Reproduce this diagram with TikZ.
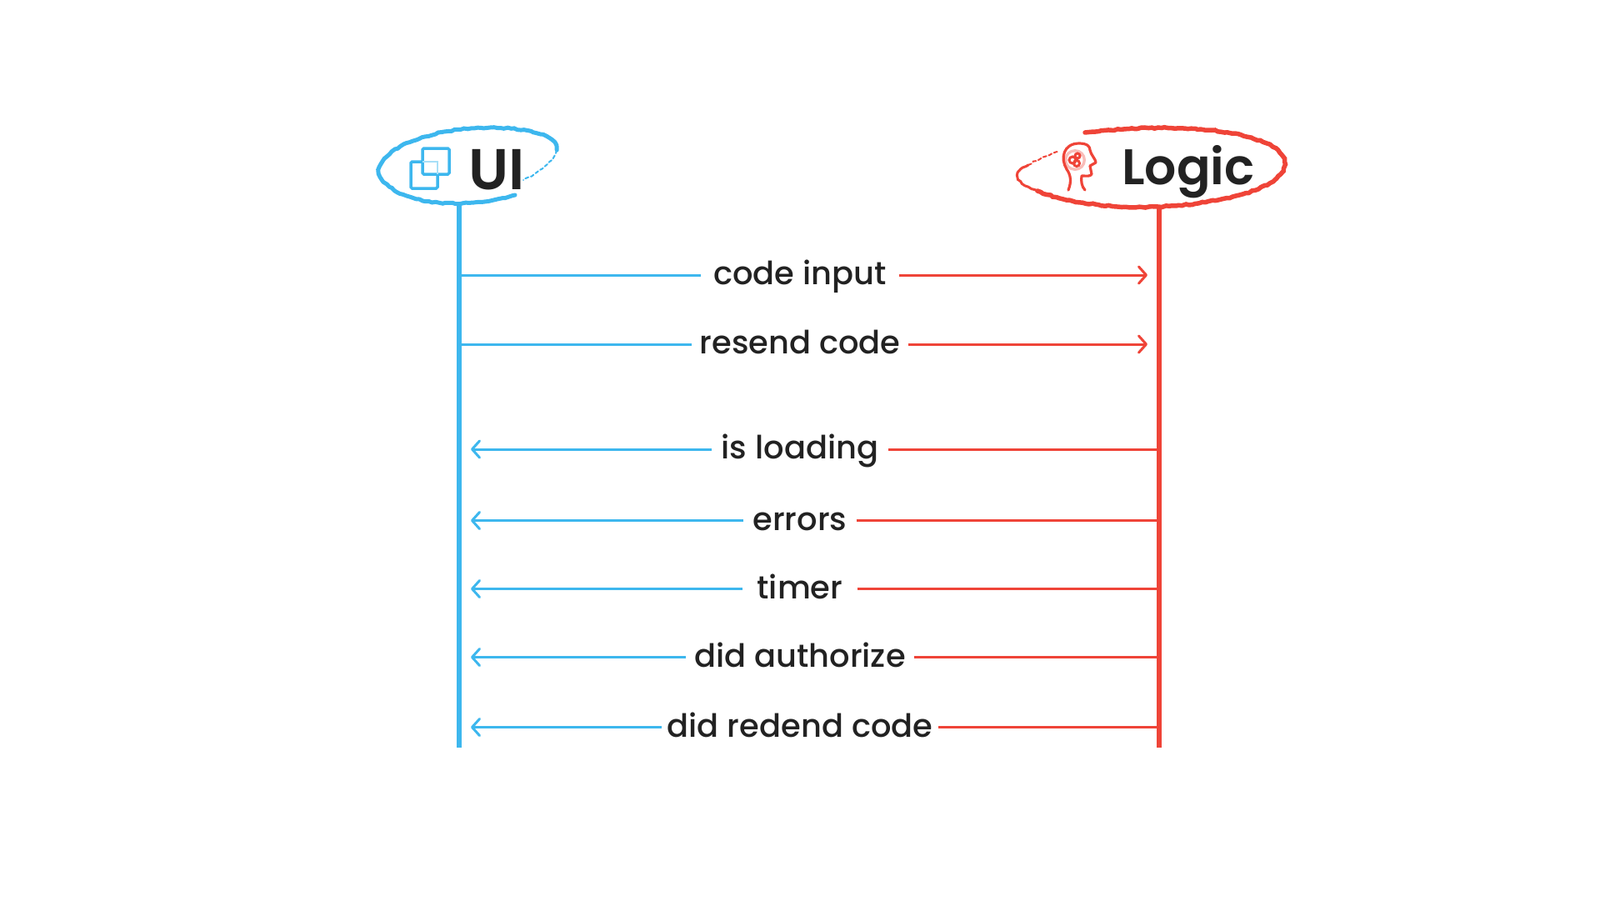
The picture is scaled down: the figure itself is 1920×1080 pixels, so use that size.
\documentclass[tikz,border=0pt]{standalone}
\usepackage{fontspec}
\setmainfont{Poppins Medium}
\newfontfamily\titlefont{Poppins SemiBold}
\usetikzlibrary{arrows.meta, positioning, decorations.pathmorphing}
\definecolor{uiBlue}{HTML}{3DB7EE}
\definecolor{logicRed}{HTML}{EF4438}
\definecolor{inkBlack}{HTML}{222222}

\begin{document}
\begin{tikzpicture}[
    x=1pt, y=-1pt,
    % Lane Titles
    title/.style={
        text=inkBlack,
        inner sep=0pt,
        anchor=base west
    },
    % Message Labels
    message/.style={
        text=inkBlack,
        font=\fontsize{38.4}{38.4}\selectfont,
        text height=26.4pt,
        text depth=2.6pt,
        inner ysep=0pt,
        inner xsep=#1
    },
    message/.default=10pt,
    % Vertical Lines
    lane/.style={line width=6pt},
    % Arrow Parts
    wire/.style={line width=3pt},
    tip/.style={-{Straight Barb[length=9pt, width=20pt, line width=3pt, round]}},
    % Hand Drawn Rings
    crayon/.style={
        line width=#1,
        line cap=round,
        decorate,
        decoration={random steps, segment length=4pt, amplitude=0.8pt}
    },
    % Faded End Of A Ring
    faded/.style={
        crayon=#1,
        dash pattern=on 4pt off 3pt
    }
]

\path[use as bounding box] (0,0) rectangle (1920,1080);

% --- LANE HEADS ---
\node[title, font=\fontsize{69}{69}\titlefont] (UiTitle) at (562,227) {UI};
\node[title, font=\fontsize{60}{60}\titlefont] (LogicTitle) at (1346,221) {Logic};

\coordinate (UiTop) at (551,244);
\coordinate (UiEnd) at (551,897);
\coordinate (LogicTop) at (1391,248);
\coordinate (LogicEnd) at (1391,897);

\draw[lane, uiBlue] (UiTop) -- (UiEnd);
\draw[lane, logicRed] (LogicTop) -- (LogicEnd);

% --- RINGS ---
\draw[crayon=5pt, uiBlue] (618,234) .. controls (570,250) and (480,250) .. (456,212)
    .. controls (446,190) and (490,160) .. (565,154)
    .. controls (620,150) and (672,160) .. (668,180);
\draw[faded=2pt, uiBlue] (668,180) .. controls (664,195) and (645,208) .. (628,216);
\draw[crayon=5.5pt, logicRed] (1302,159) .. controls (1380,150) and (1470,150) .. (1520,172)
    .. controls (1562,192) and (1542,224) .. (1470,238)
    .. controls (1400,254) and (1300,252) .. (1245,229);
\draw[crayon=3pt, logicRed] (1245,229) .. controls (1215,218) and (1215,205) .. (1234,198);
\draw[faded=2pt, logicRed] (1234,198) .. controls (1245,191) and (1258,186) .. (1270,182);

% --- UI ICON ---
\draw[uiBlue, line width=3.5pt, rounded corners=1.5pt] (507,178) rectangle (539,209);
\draw[uiBlue, line width=3.5pt, rounded corners=1.5pt] (507,194) -- (493,194) -- (493,226) -- (525,226) -- (525,209);
\draw[uiBlue!45, line width=2.5pt] (507,194) -- (525,194) -- (525,209);

% --- LOGIC ICON ---
\fill[logicRed!35] (1290,192) circle (13pt);
\fill[white] (1290,192) circle (9.5pt);
\draw[logicRed, line width=3.2pt, line cap=round, line join=round]
    (1282,228) .. controls (1286,218) and (1285,210) .. (1280,203)
    .. controls (1272,190) and (1276,172) .. (1295,172)
    .. controls (1305,172) and (1308,176) .. (1308,180)
    .. controls (1309,186) and (1315,191) .. (1315,195)
    -- (1308,199) -- (1310,209) .. controls (1308,212) and (1304,211) .. (1298,211)
    .. controls (1297,217) and (1298,224) .. (1302,228);
\draw[logicRed, line width=3pt] (1287,192) circle (4pt) (1293,187) circle (3pt) (1292,196) circle (3.5pt);

% --- MESSAGES ---
\node[message=15pt] (CodeInput) at (960,330) {code input};
\node[message=9pt] (ResendCode) at (960,413) {resend code};
\node[message=12pt] (IsLoading) at (960,539) {is loading};
\node[message=11pt] (Errors) at (960,624.5) {errors};
\node[message=17pt] (Timer) at (960,706.5) {timer};
\node[message=10pt] (DidAuthorize) at (960,788.5) {did authorize};
\node[message=7pt] (DidRedend) at (960,872.5) {did redend code};

% --- CONNECTIONS ---
\foreach \msg in {CodeInput, ResendCode} {
    \draw[wire, uiBlue] (UiTop |- \msg.west) -- (\msg.west);
    \draw[wire, tip, logicRed] (\msg.east) -- ([xshift=-14pt]LogicTop |- \msg.east);
}
\foreach \msg in {IsLoading, Errors, Timer, DidAuthorize, DidRedend} {
    \draw[wire, tip, uiBlue] (\msg.west) -- ([xshift=14pt]UiTop |- \msg.west);
    \draw[wire, logicRed] (\msg.east) -- (LogicTop |- \msg.east);
}

\end{tikzpicture}
\end{document}
